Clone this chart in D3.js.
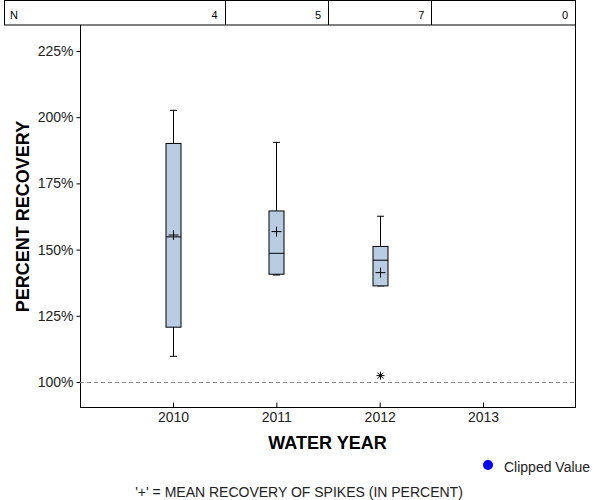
<!DOCTYPE html>
<html><head><meta charset="utf-8">
<script src="https://cdn.jsdelivr.net/npm/d3@7"></script>
<style>body{margin:0;background:#fff}svg{display:block}text{font-family:"Liberation Sans",Arial,sans-serif}</style>
</head><body>
<svg id="c" width="600" height="500"></svg>
<script>
const years = [2010, 2011, 2012, 2013];
const counts = [4, 5, 7, 0];
const whiskerHigh = [202.6, 190.5, 162.6, null];
const q3 = [190.1, 164.6, 151.2, null];
const median = [154.8, 148.6, 146.0, null];
const q1 = [120.7, 140.7, 136.3, null];
const whiskerLow = [109.7, 140.4, 136.3, null];
const means = [155.5, 156.8, 141.3, null];
const outliers = [{year: 2012, value: 102.4}];
const yTicks = [100, 125, 150, 175, 200, 225];
const refValue = 100;

const svg = d3.select("#c");
const L = 80, R = 575, T = 25, B = 407;
const x = d3.scaleLinear().domain([2009.1, 2013.89]).range([L, R]);
const y = d3.scaleLinear().domain([90.56, 234.82]).range([B, T]);
const FONT = '"Liberation Sans",Arial,sans-serif';

// N table
const tbl = svg.append("g");
tbl.append("rect").attr("x", 4.5).attr("y", 0.5).attr("width", 571).attr("height", 24.5)
  .attr("fill", "none").attr("stroke", "#000");
years.slice(0, -1).forEach(yr => {
  tbl.append("line").attr("x1", Math.round(x(yr + 0.5)) + 0.5).attr("x2", Math.round(x(yr + 0.5)) + 0.5)
    .attr("y1", 0).attr("y2", 25).attr("stroke", "#000");
});
tbl.append("text").attr("x", 10).attr("y", 19).attr("font-size", 11).text("N");
years.forEach((yr, i) => {
  const rx = i < years.length - 1 ? x(yr + 0.5) : R;
  tbl.append("text").attr("x", rx - 7).attr("y", 19).attr("font-size", 11)
    .attr("text-anchor", "end").text(counts[i]);
});

// Frame
svg.append("line").attr("x1", R + 0.5).attr("x2", R + 0.5).attr("y1", T).attr("y2", B).attr("stroke", "#000");

// Y axis
const yAxis = svg.append("g").attr("transform", `translate(${L + 0.5},0)`)
  .call(d3.axisLeft(y).tickValues(yTicks).tickSize(4).tickSizeOuter(0).tickFormat(d => d + "%"));
yAxis.select(".domain").attr("d", `M0,${T}V${B + 0.5}`);
yAxis.selectAll("text").attr("font-size", 14).attr("fill", "#222").attr("font-family", FONT).attr("x", -7);

// X axis
const xAxis = svg.append("g").attr("transform", `translate(0,${B + 0.5})`)
  .call(d3.axisBottom(x).tickValues(years).tickSize(-5).tickSizeOuter(0).tickFormat(d3.format("d")));
xAxis.select(".domain").attr("d", `M${L},0H${R + 1}`);
xAxis.selectAll("text").attr("font-size", 14).attr("fill", "#222").attr("font-family", FONT)
  .attr("y", 14.5).attr("dy", 0);

// reference line
svg.append("line").attr("x1", L).attr("x2", R).attr("y1", Math.round(y(refValue)) + 0.5).attr("y2", Math.round(y(refValue)) + 0.5)
  .attr("stroke", "#888").attr("stroke-dasharray", "4,3");

// boxes
const bw = 15, cap = 7;
const g = svg.append("g").attr("stroke", "#000").attr("stroke-width", 1);
years.forEach((yr, i) => {
  if (q3[i] == null) return;
  const cx = Math.round(x(yr)) + 0.5;
  g.append("line").attr("x1", cx).attr("x2", cx).attr("y1", y(whiskerHigh[i])).attr("y2", y(q3[i]));
  g.append("line").attr("x1", cx - cap / 2).attr("x2", cx + cap / 2).attr("y1", y(whiskerHigh[i])).attr("y2", y(whiskerHigh[i]));
  g.append("line").attr("x1", cx).attr("x2", cx).attr("y1", y(q1[i])).attr("y2", y(whiskerLow[i]));
  g.append("line").attr("x1", cx - cap / 2).attr("x2", cx + cap / 2).attr("y1", y(whiskerLow[i])).attr("y2", y(whiskerLow[i]));
  g.append("rect").attr("x", cx - bw / 2).attr("y", y(q3[i])).attr("width", bw).attr("height", y(q1[i]) - y(q3[i]))
    .attr("fill", "#b8cce4");
  g.append("line").attr("x1", cx - bw / 2).attr("x2", cx + bw / 2).attr("y1", y(median[i])).attr("y2", y(median[i]));
  const my = y(means[i]);
  g.append("path").attr("d", `M${cx - 5},${my}H${cx + 5}M${cx},${my - 5}V${my + 5}`);
});
outliers.forEach(o => {
  const cx = Math.round(x(o.year)) + 0.5, cy = y(o.value);
  g.append("path").attr("d", `M${cx - 4},${cy}H${cx + 4}M${cx},${cy - 4}V${cy + 4}M${cx - 3},${cy - 3}L${cx + 3},${cy + 3}M${cx - 3},${cy + 3}L${cx + 3},${cy - 3}`);
});

// titles
svg.append("text").attr("x", (L + R) / 2).attr("y", 449).attr("text-anchor", "middle")
  .attr("font-size", 18).attr("font-weight", "bold").text("WATER YEAR");
svg.append("text").attr("transform", "translate(29,216.5) rotate(-90)").attr("text-anchor", "middle")
  .attr("font-size", 18).attr("font-weight", "bold").text("PERCENT RECOVERY");

// legend
svg.append("circle").attr("cx", 488).attr("cy", 465).attr("r", 5).attr("fill", "#0000ff");
svg.append("text").attr("x", 504).attr("y", 472).attr("font-size", 14).attr("fill", "#222").text("Clipped Value");

// footnote
svg.append("text").attr("x", 299).attr("y", 497).attr("text-anchor", "middle").attr("font-size", 14).attr("fill", "#222")
  .text("'+' = MEAN RECOVERY OF SPIKES (IN PERCENT)");
</script>
</body></html>
